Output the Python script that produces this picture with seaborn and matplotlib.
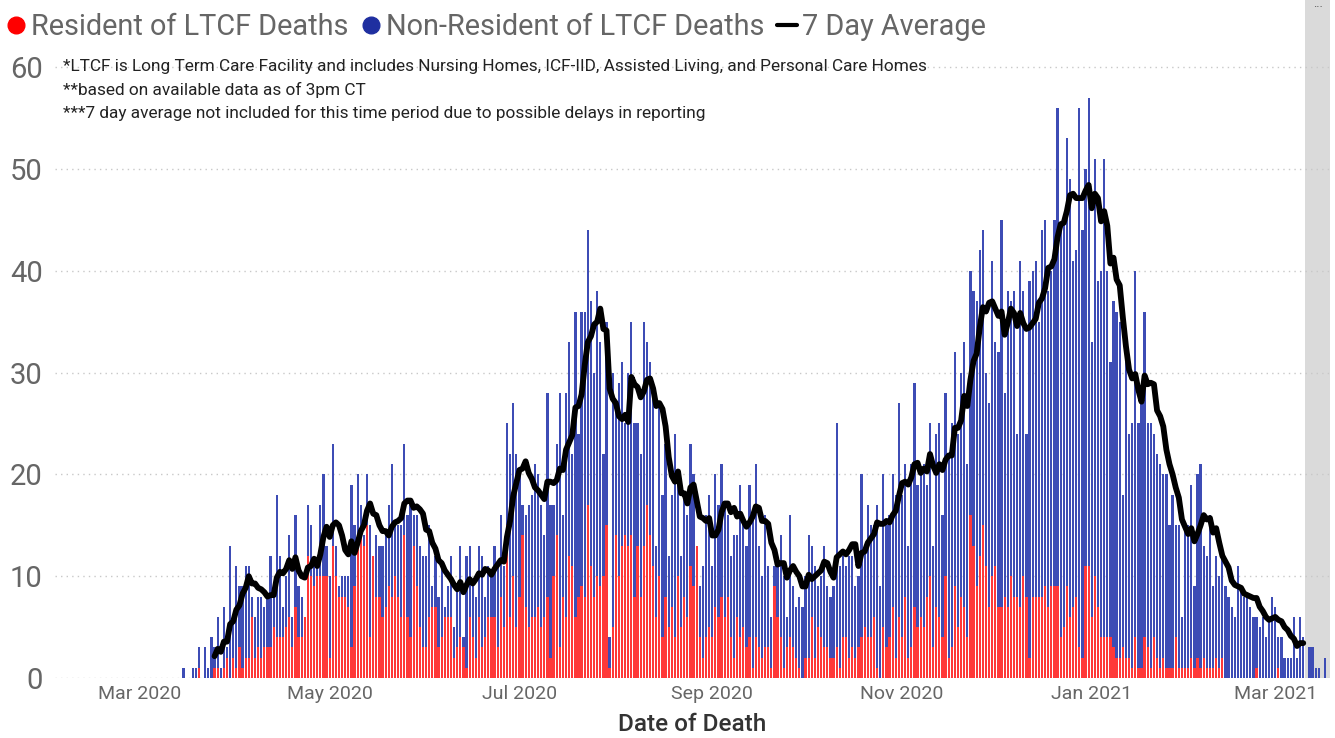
import numpy as np
import pandas as pd
import matplotlib
matplotlib.use("Agg")
import matplotlib.pyplot as plt
import matplotlib.dates as mdates
from matplotlib.lines import Line2D
import seaborn as sns

# ---------------- data (daily deaths) ----------------
start_date = "2020-03-15"

total_mar20 = [1, 0, 0, 1, 1, 3, 0, 3, 1, 4, 3, 6, 1, 7, 3, 13, 6]
res_mar20   = [0, 0, 0, 0, 0, 1, 0, 0, 0, 0, 1, 1, 0, 1, 2, 0, 2]

total_apr20 = [11, 9, 9, 11, 11, 8, 6, 8, 8, 7, 8, 12, 8, 18, 12, 7, 10, 14, 6, 16, 9, 8, 6, 17, 15, 11, 11, 17, 20, 13]
res_apr20   = [1, 3, 1, 2, 2, 6, 2, 3, 2, 3, 3, 3, 5, 4, 4, 4, 5, 6, 3, 7, 4, 4, 6, 12, 10, 9, 10, 10, 10, 10]

total_may20 = [10, 23, 13, 9, 10, 10, 10, 19, 15, 20, 17, 14, 20, 15, 12, 14, 13, 13, 14, 17, 21, 15, 15, 15, 23, 16, 17, 16, 16, 13, 12]
res_may20   = [2, 13, 10, 8, 8, 8, 7, 3, 9, 13, 14, 13, 15, 4, 12, 8, 8, 6, 7, 9, 8, 10, 8, 6, 14, 6, 4, 13, 9, 5, 3]

total_jun20 = [12, 15, 9, 12, 8, 11, 7, 9, 12, 5, 9, 13, 4, 12, 13, 9, 8, 13, 12, 8, 11, 10, 13, 11, 16, 11, 25, 22, 27, 22]
res_jun20   = [3, 6, 7, 7, 3, 4, 6, 6, 6, 2, 3, 4, 3, 1, 6, 4, 2, 6, 3, 4, 6, 6, 6, 3, 8, 5, 15, 6, 10, 5]

total_jul20 = [20, 17, 16, 17, 18, 21, 20, 17, 14, 28, 17, 17, 23, 28, 16, 28, 33, 22, 36, 24, 36, 36, 44, 37, 30, 38, 33, 22, 35, 4, 30]
res_jul20   = [8, 14, 7, 5, 6, 6, 7, 5, 6, 8, 2, 10, 14, 3, 8, 6, 12, 11, 6, 8, 9, 8, 17, 11, 8, 10, 9, 10, 15, 1, 5]

total_aug20 = [27, 29, 31, 25, 30, 35, 25, 25, 22, 35, 33, 31, 28, 13, 27, 18, 23, 12, 18, 24, 20, 12, 18, 16, 23, 20, 13, 9, 11, 16, 18]
res_aug20   = [14, 10, 13, 14, 13, 14, 8, 13, 8, 13, 17, 14, 11, 6, 10, 4, 8, 5, 7, 4, 10, 5, 8, 6, 11, 9, 13, 4, 2, 4, 5]

total_sep20 = [11, 20, 17, 21, 17, 16, 12, 14, 14, 19, 16, 13, 19, 16, 21, 13, 10, 16, 11, 6, 11, 11, 14, 10, 6, 16, 9, 7, 8, 7]
res_sep20   = [4, 7, 6, 8, 6, 8, 4, 2, 6, 4, 5, 3, 4, 1, 4, 3, 2, 3, 3, 1, 9, 6, 4, 1, 3, 4, 3, 2, 1, 0]

total_oct20 = [10, 14, 13, 11, 9, 10, 13, 9, 8, 9, 25, 11, 12, 11, 12, 12, 9, 10, 20, 13, 17, 15, 15, 17, 9, 20, 15, 16, 20, 18, 27]
res_oct20   = [2, 2, 6, 2, 5, 4, 3, 3, 2, 2, 3, 1, 4, 4, 2, 3, 2, 3, 4, 5, 4, 4, 6, 1, 0, 5, 3, 4, 7, 2, 6]

total_nov20 = [18, 21, 13, 21, 29, 19, 20, 21, 19, 25, 13, 24, 25, 16, 28, 22, 25, 32, 24, 30, 33, 21, 40, 38, 37, 42, 44, 30, 27, 41]
res_nov20   = [4, 8, 2, 3, 7, 5, 6, 5, 8, 10, 3, 7, 6, 4, 10, 2, 3, 9, 5, 8, 7, 4, 16, 13, 9, 12, 15, 11, 7, 10]

total_dec20 = [33, 32, 45, 28, 38, 37, 38, 24, 41, 38, 24, 39, 40, 41, 35, 44, 45, 38, 40, 45, 56, 44, 45, 53, 49, 41, 42, 56, 44, 50, 57]
res_dec20   = [11, 7, 7, 8, 7, 10, 8, 8, 7, 10, 8, 2, 8, 8, 8, 8, 9, 7, 9, 9, 9, 4, 5, 9, 6, 7, 8, 3, 2, 11, 11]

total_jan21 = [33, 51, 39, 40, 51, 40, 31, 37, 36, 35, 18, 31, 24, 25, 40, 25, 27, 36, 25, 25, 24, 22, 21, 20, 20, 15, 18, 15, 15, 6, 15]
res_jan21   = [6, 10, 7, 4, 4, 4, 4, 3, 2, 2, 3, 2, 2, 1, 4, 1, 1, 4, 3, 1, 4, 2, 1, 2, 1, 1, 1, 4, 1, 1, 1]

total_feb21 = [15, 19, 9, 20, 21, 13, 12, 16, 9, 12, 10, 12, 9, 8, 7, 6, 11, 9, 8, 8, 7, 6, 6, 5, 6, 4, 6, 8]
res_feb21   = [1, 2, 1, 2, 1, 2, 1, 1, 1, 2, 1, 2, 0, 0, 0, 0, 0, 0, 0, 0, 0, 0, 1, 0, 0, 0, 0, 0]

total_mar21 = [7, 4, 4, 2, 2, 2, 6, 2, 6, 4, 0, 3, 3, 1, 1, 0, 2]
res_mar21   = [0, 1, 0, 0, 0, 0, 0, 0, 0, 0, 0, 0, 0, 0, 0, 0, 0]

avg_first = "2020-03-25"   # first day the 7 day average is shown
avg_last = "2021-03-10"    # last day the 7 day average is shown
month_ticks = ["2020-03-01", "2020-05-01", "2020-07-01", "2020-09-01",
               "2020-11-01", "2021-01-01", "2021-03-01"]

legend_labels = ["Resident of LTCF Deaths", "Non-Resident of LTCF Deaths", "7 Day Average"]
notes = ["*LTCF is Long Term Care Facility and includes Nursing Homes, ICF-IID, Assisted Living, and Personal Care Homes",
         "**based on available data as of 3pm CT",
         "***7 day average not included for this time period due to possible delays in reporting"]

# ---------------- assemble ----------------
total = np.array(total_mar20 + total_apr20 + total_may20 + total_jun20 + total_jul20 +
                 total_aug20 + total_sep20 + total_oct20 + total_nov20 + total_dec20 +
                 total_jan21 + total_feb21 + total_mar21, dtype=float)
resident = np.array(res_mar20 + res_apr20 + res_may20 + res_jun20 + res_jul20 +
                    res_aug20 + res_sep20 + res_oct20 + res_nov20 + res_dec20 +
                    res_jan21 + res_feb21 + res_mar21, dtype=float)
nonres = total - resident
dates = pd.date_range(start_date, periods=len(total), freq="D")

df = pd.DataFrame({"date": dates, "total": total, "resident": resident, "nonres": nonres})
df["avg7"] = df["total"].rolling(7, min_periods=1).mean()
line_df = df[(df["date"] >= avg_first) & (df["date"] <= avg_last)]

# ---------------- style ----------------
sns.set_theme(style="white")
plt.rcParams["font.family"] = ["Roboto", "DejaVu Sans"]

RED = "#FF3838"
BLUE = "#3D4CB5"
GREY_TXT = "#666666"

fig = plt.figure(figsize=(13.35, 7.38), dpi=100)
ax = fig.add_axes([55 / 1335, 60 / 738, 1275 / 1335, 678 / 738])

base = mdates.date2num(pd.Timestamp("2020-03-01"))
ax.set_xlim(base - 27.3, base + 382.6)
ax.set_ylim(0, 66.6)

# shaded region: last 7 days without an average
ax.axvspan(mdates.date2num(dates[-7]) - 0.5, base + 382.6, color="#DADADA", zorder=0, lw=0)

ax.bar(df["date"], df["resident"], width=0.72, color=RED, lw=0, zorder=2)
ax.bar(df["date"], df["nonres"], bottom=df["resident"], width=0.72, color=BLUE, lw=0, zorder=2)

sns.lineplot(data=line_df, x="date", y="avg7", color="black", lw=4.2, ax=ax, zorder=3)

# grid / axes
ax.set_yticks(range(0, 61, 10))
ax.yaxis.grid(True, linestyle=(0, (1, 3)), color="#C8C8C8", lw=1.0, zorder=1)
ax.xaxis.grid(False)
for s in ax.spines.values():
    s.set_visible(False)
ax.tick_params(axis="y", labelsize=21, colors=GREY_TXT, length=0, pad=9)
ax.set_xticks([pd.Timestamp(t) for t in month_ticks])
ax.xaxis.set_major_formatter(mdates.DateFormatter("%b %Y"))
ax.tick_params(axis="x", labelsize=14, colors=GREY_TXT, length=0, pad=5)
ax.set_ylabel("")
ax.set_xlabel("Date of Death", fontsize=17.5, color="#333333", fontweight="medium", labelpad=7)

# notes
for i, t in enumerate(notes):
    fig.text(63 / 1335, 1 - (67 + 23 * i) / 738, t, fontsize=12.4, color="#222222", va="center", ha="left")

# Power BI options marker in the shaded strip
fig.text(1318 / 1335, 1 - 8 / 738, "···", fontsize=9, color="#555555", ha="center", va="center")

# legend
handles = [Line2D([], [], marker="o", ls="", color="#FF0000", markersize=12),
           Line2D([], [], marker="o", ls="", color="#1F2FA0", markersize=12),
           Line2D([], [], color="black", lw=3)]
fig.legend(handles, legend_labels, loc="upper left", bbox_to_anchor=(-0.004, 0.998), ncol=3,
           frameon=False, fontsize=20.8, labelcolor=GREY_TXT, handlelength=0.7,
           handletextpad=0.15, columnspacing=0.45, borderaxespad=0.0)

fig.savefig("out.png", dpi=100)
